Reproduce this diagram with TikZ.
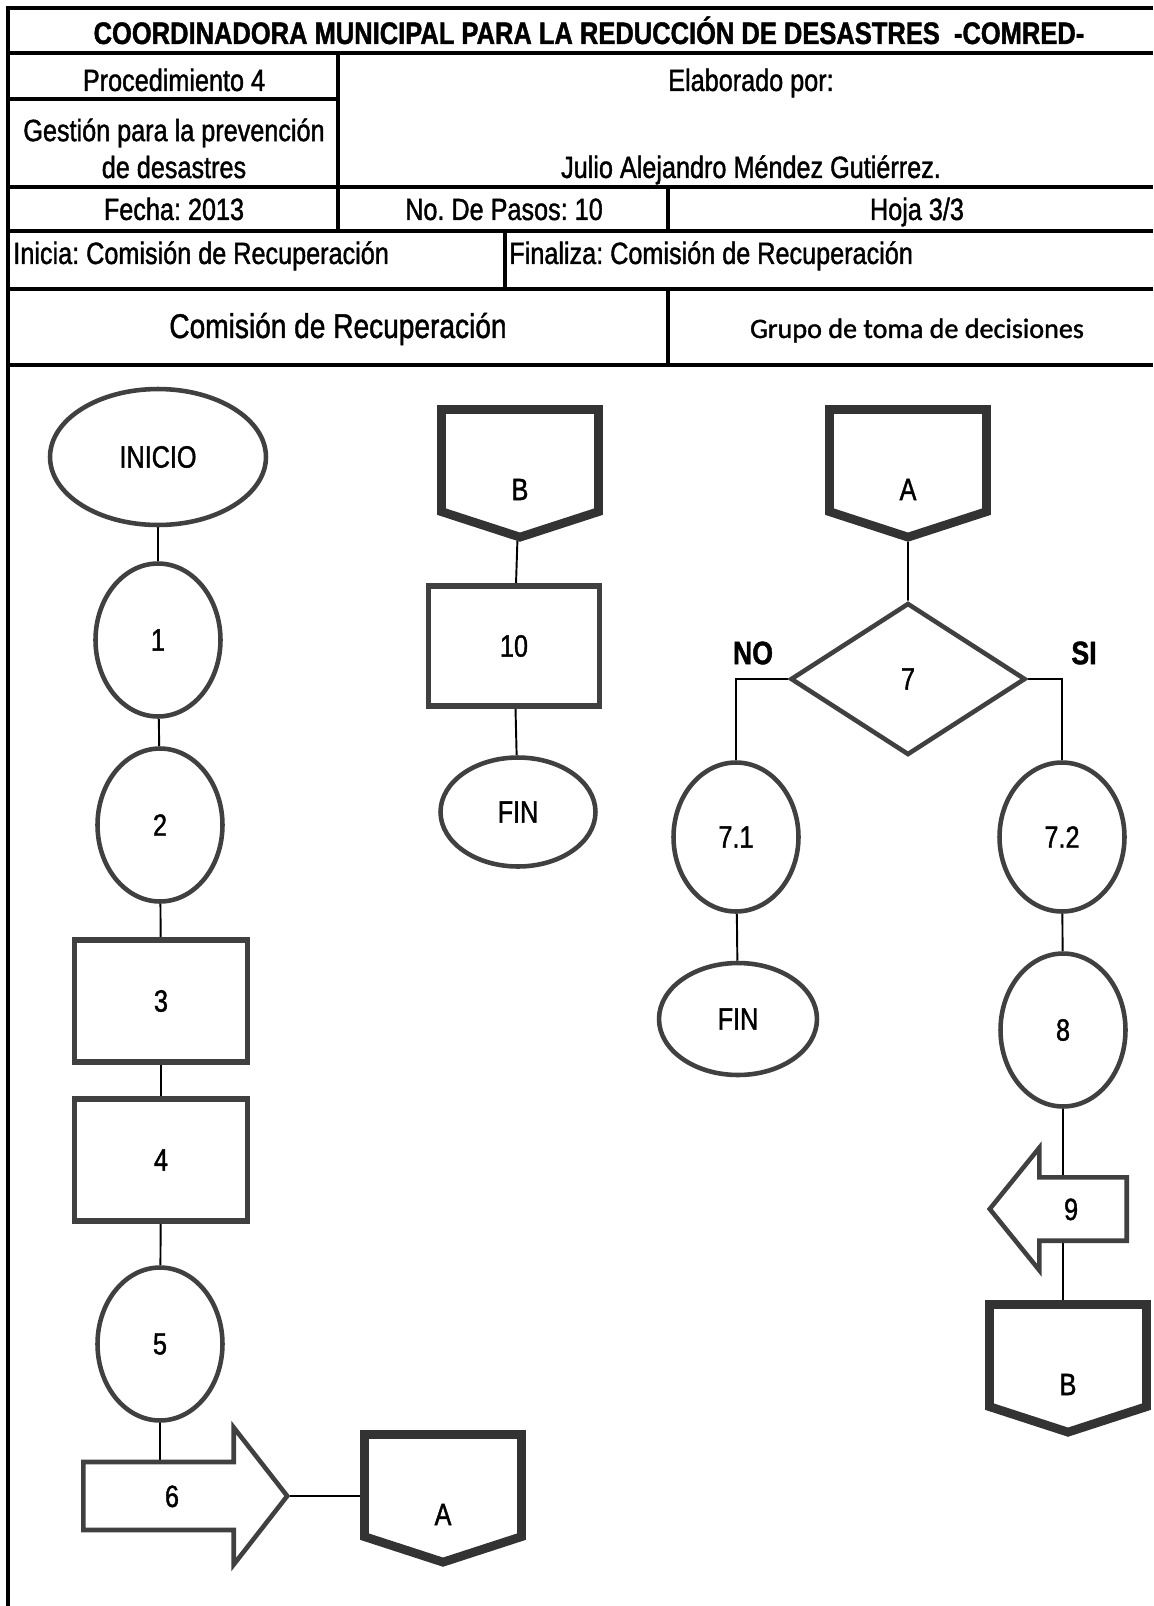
\documentclass[tikz,border=0pt]{standalone}
\usepackage{fontspec}
\setmainfont[FakeStretch=0.82,FakeBold=1.3]{Liberation Sans}
\newfontfamily\grupofont[FakeBold=1.3]{Carlito}
\usetikzlibrary{shapes.geometric,shapes.symbols,shapes.arrows,backgrounds}
\newcommand{\hfont}{\fontsize{17.5}{21}\selectfont}
\newcommand{\bigfont}{\fontsize{19.5}{23}\selectfont}
\frenchspacing
\tikzset{
  rule/.style={line width=1.8pt},
  cell/.style={font=\hfont, inner sep=0pt, text height=12.5pt, text depth=0pt},
  stepbox/.style={draw=black!75, line width=3.2pt, fill=white, minimum width=3.46cm, minimum height=2.44cm, font=\hfont},
  stepoval/.style={ellipse, draw=black!75, line width=2.6pt, fill=white, inner sep=0pt, minimum width=2.5cm, minimum height=3.06cm, font=\hfont},
  endoval/.style={ellipse, draw=black!75, line width=2.6pt, fill=white, inner sep=0pt, font=\hfont},
  offpage/.style={signal, signal to=south, signal from=nowhere, signal pointer angle=144, draw=black!80, line width=5pt, fill=white, inner sep=0pt, text height=45pt, text depth=0pt, minimum width=3.14cm, minimum height=2.1cm, font=\hfont, anchor=north},
  flecha/.style={single arrow, draw=black!75, line width=2.6pt, fill=white, inner xsep=0pt, text height=12.5pt, text depth=0pt, font=\hfont, anchor=tail},
  decision/.style={diamond, draw=black!75, line width=2.6pt, fill=white, inner sep=0pt, minimum width=4.7cm, minimum height=3.04cm, font=\hfont},
  rama/.style={font=\bfseries\fontsize{18.5}{22}\selectfont, inner sep=0pt},
  link/.style={line width=1.1pt}
}
\begin{document}
\begin{tikzpicture}[x=0.02cm,y=-0.02cm]
\useasboundingbox (0,0) rectangle (1153,1606);
% encabezado
\draw[rule] (8,1606) -- (8,8) -- (1153,8);
\draw[rule] (8,53) -- (1153,53);
\draw[rule] (8,99) -- (338,99);
\draw[rule] (338,53) -- (338,231);
\draw[rule] (8,187) -- (1153,187);
\draw[rule] (668,187) -- (668,231);
\draw[rule] (8,231) -- (1153,231);
\draw[rule] (505,231) -- (505,289);
\draw[rule] (8,289) -- (1153,289);
\draw[rule] (668,289) -- (668,365);
\draw[rule] (8,365) -- (1153,365);
\node[cell,font=\fontsize{17.7}{21}\selectfont\bfseries] (titulo) at (589,33) {COORDINADORA MUNICIPAL PARA LA REDUCCIÓN DE DESASTRES \ -COMRED-};
\node[cell] (proc) at (174,80) {Procedimiento 4};
\node[cell] (elab) at (751,80) {Elaborado por:};
\node[font=\hfont,inner sep=0pt,align=center,anchor=base] (gest) at (174,178) {Gestión para la prevención\\de desastres};
\node[cell] (autor) at (751,167) {Julio Alejandro Méndez Gutiérrez.};
\node[cell] (fecha) at (174,209) {Fecha: 2013};
\node[cell] (pasos) at (504,209) {No. De Pasos: 10};
\node[cell] (hoja) at (917,209) {Hoja 3/3};
\node[cell,anchor=west] (inicia) at (13,253) {Inicia: Comisión de Recuperación};
\node[cell,anchor=west] (finaliza) at (509,253) {Finaliza: Comisión de Recuperación};
\node[cell,font=\bigfont] (comision) at (338,327) {Comisión de Recuperación};
\node[cell,font=\grupofont\fontsize{16}{19}\selectfont] (grupo) at (917,327) {Grupo de toma de decisiones};
% columna izquierda
\node[endoval, minimum width=4.32cm, minimum height=2.72cm] (inicio) at (158,457) {INICIO};
\node[stepoval] (p1) at (158,640) {1};
\node[stepoval] (p2) at (160,825) {2};
\node[stepbox] (p3) at (161,1001) {3};
\node[stepbox] (p4) at (161,1160) {4};
\node[stepoval] (p5) at (160,1344) {5};
\node[flecha, inner ysep=11.8pt, minimum height=4.08cm, single arrow head extend=0.69cm, single arrow tip angle=104] (p6) at (81,1496) {6};
\node[offpage] (cA) at (443,1430) {A};
% columna central
\node[offpage] (cB) at (520,405) {B};
\node[stepbox, minimum width=3.42cm, minimum height=2.4cm] (p10) at (514,646) {10};
\node[endoval, minimum width=3.1cm, minimum height=2.18cm] (fin1) at (518,812) {FIN};
% grupo de toma de decisiones
\node[offpage] (cA2) at (908,405) {A};
\node[decision] (p7) at (908,679) {7};
\node[rama] (no) at (753,653) {NO};
\node[rama] (si) at (1084,653) {SI};
\node[stepoval, minimum height=2.98cm] (p71) at (736,837) {7.1};
\node[endoval, minimum width=3.16cm, minimum height=2.24cm] (fin2) at (738,1019) {FIN};
\node[stepoval, minimum height=2.98cm] (p72) at (1062,837) {7.2};
\node[stepoval] (p8) at (1063,1030) {8};
\node[flecha, shape border rotate=180, inner ysep=10.5pt, minimum height=2.74cm, single arrow head extend=0.59cm, single arrow tip angle=102] (p9) at (1129,1209) {9};
\node[offpage] (cB2) at (1068,1300) {B};
% conectores
\begin{pgfonlayer}{background}
\draw[link] (inicio) -- (p1);
\draw[link] (p1) -- (p2);
\draw[link] (p2) -- (p3);
\draw[link] (p3) -- (p4);
\draw[link] (p4) -- (p5);
\draw[link] (p5) -- (p5 |- p6.tail);
\draw[link] (p6.tip) -- (p6.tip -| cA.west);
\draw[link] (cB) -- (p10);
\draw[link] (p10) -- (fin1);
\draw[link] (cA2) -- (p7);
\draw[link] (p7.west) -| (p71);
\draw[link] (p7.east) -| (p72);
\draw[link] (p71) -- (fin2);
\draw[link] (p72) -- (p8);
\draw[link] (p8) -- (p8 |- cB2.center);
\end{pgfonlayer}
\end{tikzpicture}
\end{document}
